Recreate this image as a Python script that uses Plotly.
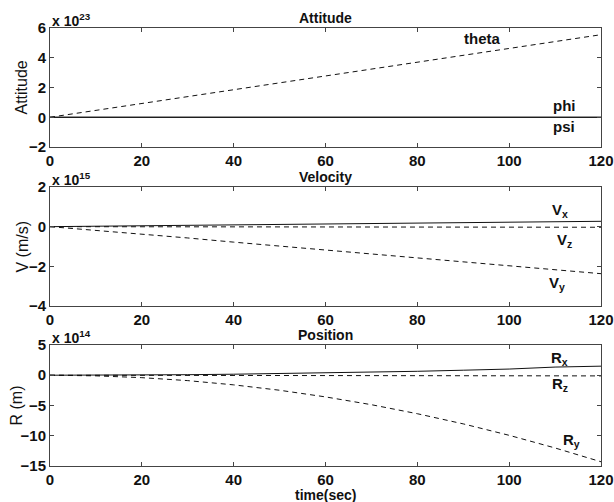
import plotly.graph_objects as go

# time axis (sec)
t = [0, 10, 20, 30, 40, 50, 60, 70, 80, 90, 100, 110, 120]

# Attitude (x 1e23)
theta = [0, 0.46, 0.93, 1.39, 1.85, 2.31, 2.78, 3.24, 3.70, 4.16, 4.63, 5.09, 5.55]
phi = [0, 0, 0, 0, 0, 0, 0, 0, 0, 0, 0, 0, 0]
psi = [0, 0, 0, 0, 0, 0, 0, 0, 0, 0, 0, 0, 0]

# Velocity (x 1e15)
vx = [0, 0.02, 0.04, 0.06, 0.08, 0.10, 0.12, 0.14, 0.17, 0.19, 0.21, 0.24, 0.27]
vy = [0, -0.18, -0.37, -0.57, -0.78, -0.98, -1.18, -1.38, -1.58, -1.78, -1.98, -2.17, -2.37]
vz = [0, 0, -0.01, -0.01, -0.01, -0.01, -0.02, -0.02, -0.02, -0.02, -0.02, -0.03, -0.03]

# Position (x 1e14)
rx = [0, 0.01, 0.04, 0.09, 0.17, 0.26, 0.37, 0.50, 0.65, 0.83, 1.02, 1.35, 1.50]
ry = [0, -0.10, -0.40, -0.89, -1.59, -2.48, -3.58, -4.87, -6.36, -8.04, -9.93, -12.02, -14.3]
rz = [0, 0, -0.02, -0.03, -0.04, -0.05, -0.06, -0.07, -0.08, -0.09, -0.10, -0.10, -0.11]

xticks = [0, 20, 40, 60, 80, 100, 120]

FONT = "Liberation Sans"
INK = "#111111"
DASH = "5px,4px"

fig = go.Figure()

def add(x, y, ax, dash):
    fig.add_trace(go.Scatter(
        x=x, y=y, mode="lines", xaxis="x" + ax, yaxis="y" + ax,
        line=dict(color=INK, width=1, dash=dash), showlegend=False,
        hoverinfo="skip"))

add(t, phi, "", "solid")
add(t, psi, "", "solid")
add(t, theta, "", DASH)
add(t, vx, "2", "solid")
add(t, vz, "2", DASH)
add(t, vy, "2", DASH)
add(t, rx, "3", "solid")
add(t, rz, "3", DASH)
add(t, ry, "3", DASH)

tickfont = dict(family=FONT, size=15, color=INK, weight="bold")
axcommon = dict(showgrid=False, zeroline=False, showline=True, linecolor="#444",
                linewidth=1, mirror="ticks", ticks="inside", ticklen=4,
                tickcolor="#444", tickfont=tickfont, automargin=False)

domains = {"": [0.7283, 1.0], "2": [0.3653, 0.6370], "3": [0.0, 0.2763]}
yranges = {"": ([-2, 6], [-2, 0, 2, 4, 6], "Attitude", -28),
           "2": ([-4, 2], [-4, -2, 0, 2], "V (m/s)", -28),
           "3": ([-15, 5], [-15, -10, -5, 0, 5], "R (m)", -34)}

layout = dict(
    width=614, height=502,
    margin=dict(l=50, r=13, t=28, b=36),
    paper_bgcolor="white", plot_bgcolor="white",
    font=dict(family=FONT, color=INK),
)
for k in ["", "2", "3"]:
    rng, tv, title, sh = yranges[k]
    layout["xaxis" + k] = dict(axcommon, range=[0, 120], tickvals=xticks,
                               anchor="y" + k, domain=[0, 1])
    layout["yaxis" + k] = dict(axcommon, range=rng, tickvals=tv,
                               anchor="x" + k, domain=domains[k])
fig.update_layout(**layout)

anns = []
def title_ann(text, dom):
    anns.append(dict(text="<b>%s</b>" % text, x=0.5, xref="paper", y=dom[1], yref="paper",
                     yanchor="bottom", yshift=0, showarrow=False,
                     font=dict(family=FONT, size=14, color=INK)))

def exp_ann(text, dom):
    anns.append(dict(text="<b>%s</b>" % text, x=0.0, xref="paper", xanchor="left",
                     y=dom[1], yref="paper", yanchor="bottom", yshift=-3, xshift=0,
                     showarrow=False, font=dict(family=FONT, size=14, color=INK)))

def ytitle_ann(text, dom, sh):
    anns.append(dict(text=text, x=0.0, xref="paper", xanchor="center", xshift=sh,
                     y=(dom[0] + dom[1]) / 2, yref="paper", yanchor="middle",
                     textangle=-90, showarrow=False,
                     font=dict(family=FONT, size=16, color=INK)))

for k, nm in [("", "Attitude"), ("2", "Velocity"), ("3", "Position")]:
    title_ann(nm, domains[k])
    ytitle_ann(yranges[k][2], domains[k], yranges[k][3])
exp_ann("x 10<sup>23</sup>", domains[""])
exp_ann("x 10<sup>15</sup>", domains["2"])
exp_ann("x 10<sup>14</sup>", domains["3"])

# x-axis title
anns.append(dict(text="<b>time(sec)</b>", x=0.5, xref="paper", y=0, yref="paper",
                 yanchor="top", yshift=-19, showarrow=False,
                 font=dict(family=FONT, size=14, color=INK)))

def lbl(text, x, y, ax):
    anns.append(dict(text="<b>%s</b>" % text, x=x, y=y, xref="x" + ax, yref="y" + ax,
                     showarrow=False, font=dict(family=FONT, size=15, color=INK)))

lbl("theta", 94, 5.3, "")
lbl("phi", 112, 0.8, "")
lbl("psi", 112, -0.6, "")
lbl("V<sub>x</sub>", 111, 0.8, "2")
lbl("V<sub>z</sub>", 112, -0.7, "2")
lbl("V<sub>y</sub>", 110.5, -2.85, "2")
lbl("R<sub>x</sub>", 111, 2.8, "3")
lbl("R<sub>z</sub>", 111, -1.5, "3")
lbl("R<sub>y</sub>", 113.5, -10.8, "3")

fig.update_layout(annotations=anns)
fig.write_html("out.html")
